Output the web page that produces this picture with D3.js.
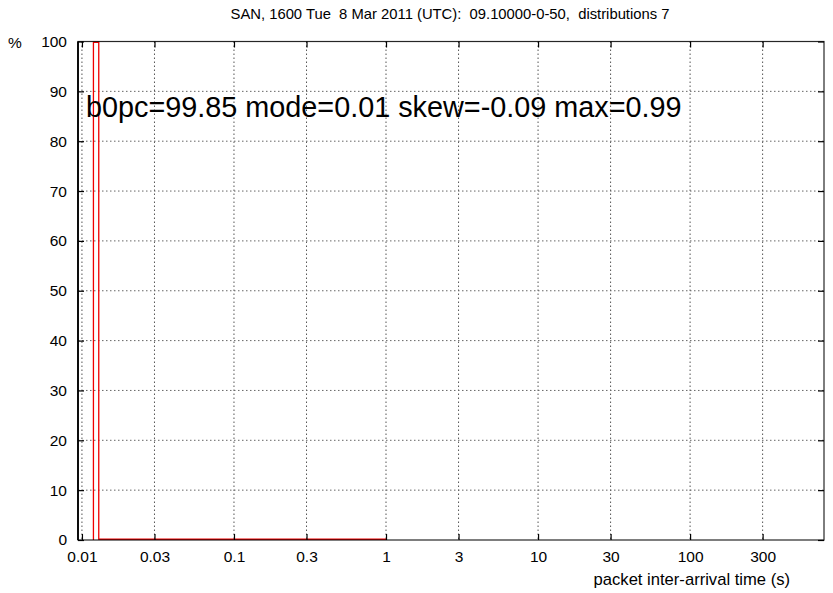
<!DOCTYPE html>
<html>
<head>
<meta charset="utf-8">
<script src="https://cdn.jsdelivr.net/npm/d3@7"></script>
<style>
  html, body { margin: 0; padding: 0; background: #fff; }
  svg { display: block; font-family: "Liberation Sans", Arial, sans-serif; }
</style>
</head>
<body>
<svg id="chart" width="833" height="593"></svg>
<script>
// Chart text
const titleText = "SAN, 1600 Tue  8 Mar 2011 (UTC):  09.10000-0-50,  distributions 7";
const statsText = "b0pc=99.85 mode=0.01 skew=-0.09 max=0.99";
const xLabelText = "packet inter-arrival time (s)";
const yLabelText = "%";

// Axis ticks
const xTickValues = [0.01, 0.03, 0.1, 0.3, 1, 3, 10, 30, 100, 300];
const xTickLabels = ["0.01", "0.03", "0.1", "0.3", "1", "3", "10", "30", "100", "300"];
const yTickValues = [0, 10, 20, 30, 40, 50, 60, 70, 80, 90, 100];

// Histogram of inter-arrival times: bin edges (s) and percentage per bin
const binEdges = [0.0119, 0.0129, 0.99];
const binPercent = [99.85, 0.15];

const svg = d3.select("#chart");
const plotL = 78, plotR = 824, plotT = 41.5, plotB = 540;

const x = d3.scaleLog().domain([0.00942, 760]).range([plotL, plotR]);
const y = d3.scaleLinear().domain([0, 100]).range([plotB, plotT]);

// Grid
const grid = svg.append("g");
grid.selectAll("line.gx").data(xTickValues).join("line")
  .attr("x1", d => x(d)).attr("x2", d => x(d))
  .attr("y1", plotT).attr("y2", plotB)
  .attr("stroke", "#555").attr("stroke-width", 1)
  .attr("stroke-dasharray", "1.5,2.5");
grid.selectAll("line.gy").data(yTickValues.filter(v => v > 0 && v < 100)).join("line")
  .attr("x1", plotL).attr("x2", plotR)
  .attr("y1", d => y(d)).attr("y2", d => y(d))
  .attr("stroke", "#666").attr("stroke-width", 1)
  .attr("stroke-dasharray", "1.5,2.5");

// Histogram outline as a step path
const stepPts = [[binEdges[0], 0]];
binPercent.forEach((p, i) => {
  stepPts.push([binEdges[i], p]);
  stepPts.push([binEdges[i + 1], p]);
});
stepPts.push([binEdges[binEdges.length - 1], 0]);
svg.append("path")
  .attr("d", d3.line().x(d => x(d[0])).y(d => y(d[1]))(stepPts))
  .attr("fill", "none").attr("stroke", "#f00000").attr("stroke-width", 1.3);

// Axes with inward ticks, mirrored on all sides
const tickLen = 6;
const axisB = d3.axisBottom(x).tickValues(xTickValues).tickFormat((d, i) => xTickLabels[i])
  .tickSizeInner(-tickLen).tickSizeOuter(0).tickPadding(11);
const axisT = d3.axisTop(x).tickValues(xTickValues).tickFormat("")
  .tickSizeInner(-tickLen).tickSizeOuter(0);
const axisL = d3.axisLeft(y).tickValues(yTickValues)
  .tickSizeInner(-tickLen).tickSizeOuter(0).tickPadding(11);
const axisR = d3.axisRight(y).tickValues(yTickValues).tickFormat("")
  .tickSizeInner(-tickLen).tickSizeOuter(0);

function styleAxis(g) {
  g.select(".domain").remove();
  g.selectAll(".tick line").attr("stroke", "#000").attr("stroke-width", 1.2);
  g.selectAll(".tick text").attr("fill", "#000").attr("font-size", "15.5px")
    .attr("font-family", "Liberation Sans, Arial, sans-serif");
}
svg.append("g").attr("transform", `translate(0,${plotB})`).call(axisB).call(styleAxis);
svg.append("g").attr("transform", `translate(0,${plotT})`).call(axisT).call(styleAxis);
svg.append("g").attr("transform", `translate(${plotL},0)`).call(axisL).call(styleAxis);
svg.append("g").attr("transform", `translate(${plotR},0)`).call(axisR).call(styleAxis);

// Frame
svg.append("rect")
  .attr("x", plotL).attr("y", plotT).attr("width", plotR - plotL).attr("height", plotB - plotT)
  .attr("fill", "none").attr("stroke", "#000").attr("stroke-width", 1.2)
  .attr("stroke-opacity", 0.85);
svg.append("line").attr("x1", plotL).attr("x2", plotL).attr("y1", plotT).attr("y2", plotB)
  .attr("stroke", "#000").attr("stroke-width", 1.8);

// Texts
svg.append("text").attr("x", 450).attr("y", 19).attr("text-anchor", "middle")
  .attr("font-size", "14.8px").style("white-space", "pre").text(titleText);
svg.append("text").attr("x", 15).attr("y", 48).attr("text-anchor", "middle")
  .attr("font-size", "15.5px").text(yLabelText);
svg.append("text").attr("x", 790).attr("y", 585).attr("text-anchor", "end")
  .attr("font-size", "16.6px").text(xLabelText);
svg.append("text").attr("x", 86).attr("y", 117)
  .attr("font-size", "28.8px").text(statsText);
</script>
</body>
</html>
